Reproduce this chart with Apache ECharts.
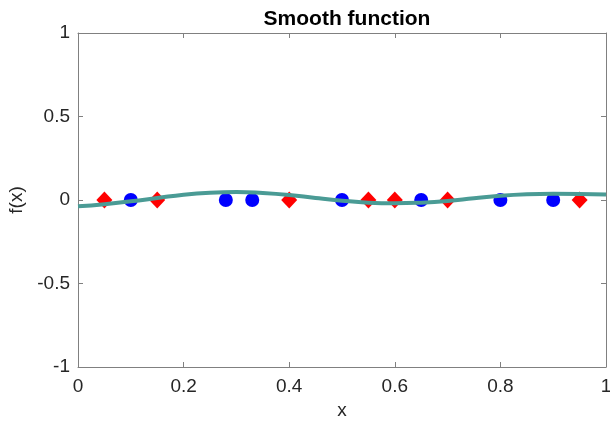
<!DOCTYPE html>
<html>
<head>
<meta charset="utf-8">
<script src="https://cdn.jsdelivr.net/npm/echarts@6/dist/echarts.min.js"></script>
<style>html,body{margin:0;padding:0;background:#fff}#c{width:610px;height:421px}</style>
</head>
<body>
<div id="c"></div>
<script>
var curveX = [0, 0.05, 0.1, 0.15, 0.2, 0.25, 0.3, 0.35, 0.4, 0.45, 0.5, 0.55, 0.6, 0.65, 0.7, 0.75, 0.8, 0.85, 0.9, 0.95, 1.0];
var curveY = [-0.038, -0.025, -0.008, 0.012, 0.032, 0.044, 0.048, 0.042, 0.03, 0.012, -0.004, -0.016, -0.02, -0.016, -0.006, 0.01, 0.025, 0.034, 0.037, 0.036, 0.033];
var blueX = [0.1, 0.28, 0.33, 0.5, 0.65, 0.8, 0.9];
var blueY = [0, 0, 0, 0, 0, 0, 0];
var redX = [0.05, 0.15, 0.4, 0.55, 0.6, 0.7, 0.95];
var redY = [0, 0, 0, 0, 0, 0, 0];

function zip(a, b) { return a.map(function (v, i) { return [v, b[i]]; }); }

var font = 'Liberation Sans, Arial, Helvetica, sans-serif';
var axisColor = '#808080';
var textColor = '#262626';

function tick() { return {show: true, inside: true, length: 5, lineStyle: {color: axisColor, width: 1}}; }
function line() { return {show: true, onZero: false, lineStyle: {color: axisColor, width: 1}}; }

var chart = echarts.init(document.getElementById('c'), null, {renderer: 'canvas'});
chart.setOption({
  animation: false,
  title: {
    text: 'Smooth function', left: 342, top: 4, textAlign: 'center',
    textStyle: {fontFamily: font, fontSize: 21, fontWeight: 'bold', color: '#000'}
  },
  grid: {left: 78, right: 4, top: 33, bottom: 54, containLabel: false, outerBoundsMode: 'none'},
  xAxis: [{
    type: 'value', min: 0, max: 1, interval: 0.2, position: 'bottom',
    name: 'x', nameLocation: 'middle', nameGap: 31,
    nameTextStyle: {fontFamily: font, fontSize: 19, color: textColor},
    axisLine: line(), axisTick: tick(),
    axisLabel: {fontFamily: font, fontSize: 19, color: textColor, margin: 10},
    splitLine: {show: false}
  }, {
    type: 'value', min: 0, max: 1, interval: 0.2, position: 'top',
    axisLine: line(), axisTick: tick(),
    axisLabel: {show: false}, splitLine: {show: false}
  }],
  yAxis: [{
    type: 'value', min: -1, max: 1, interval: 0.5, position: 'left',
    name: 'f(x)', nameLocation: 'middle', nameGap: 50, nameRotate: 90,
    nameTextStyle: {fontFamily: font, fontSize: 19, color: textColor},
    axisLine: line(), axisTick: tick(),
    axisLabel: {fontFamily: font, fontSize: 19, color: textColor, margin: 8},
    splitLine: {show: false}
  }, {
    type: 'value', min: -1, max: 1, interval: 0.5, position: 'right',
    axisLine: line(), axisTick: tick(),
    axisLabel: {show: false}, splitLine: {show: false}
  }],
  series: [{
    type: 'scatter', data: zip(blueX, blueY), symbol: 'circle', symbolSize: 14,
    itemStyle: {color: '#0000ff', opacity: 1}, z: 2
  }, {
    type: 'scatter', data: zip(redX, redY), symbol: 'diamond', symbolSize: [16, 17],
    itemStyle: {color: '#ff0000', opacity: 1}, z: 2
  }, {
    type: 'line', data: zip(curveX, curveY), smooth: true, showSymbol: false,
    lineStyle: {color: '#4a9b95', width: 4}, z: 3
  }]
});
</script>
</body>
</html>
